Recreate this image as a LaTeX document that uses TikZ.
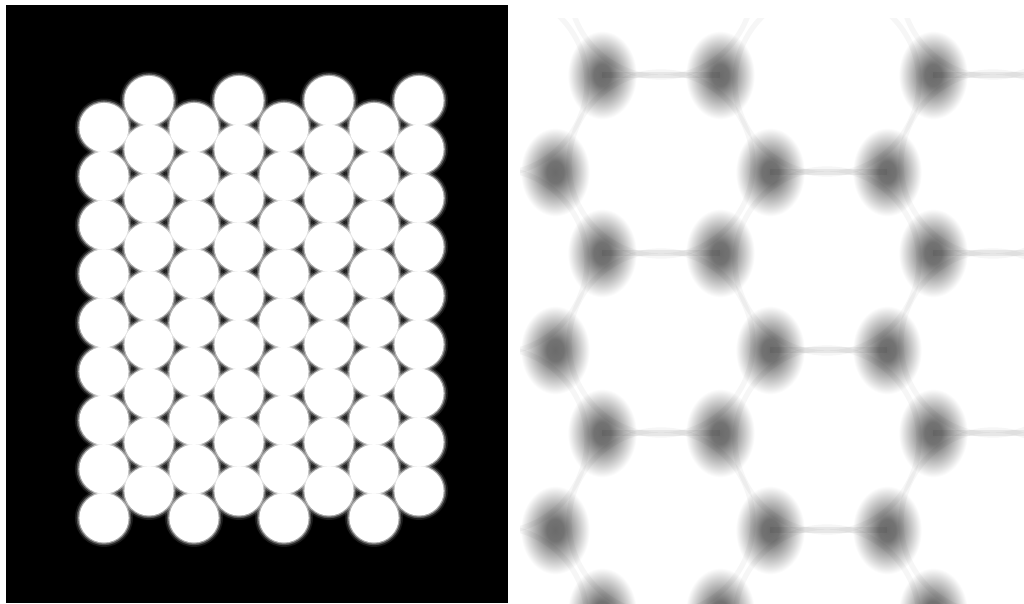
\documentclass[tikz,border=0pt]{standalone}
\pgfdeclareradialshading{blob}{\pgfpoint{0bp}{0bp}}{color(0bp)=(black!58); color(6bp)=(black!55); color(24bp)=(white); color(50bp)=(white)}
\tikzset{
  halo/.style={fill=white, opacity=#1},
  streak/.style={draw=black, opacity=0.06, line width=5},
  rim/.style={draw=black, opacity=0.035, line width=4}
}
\begin{document}
\begin{tikzpicture}[x=0.75pt,y=-0.75pt]
\useasboundingbox (0,0) rectangle (1024,603);
\fill[white] (0,0) rectangle (1024,603);
% left panel
\fill[black] (6,5) rectangle (508,603);
\begin{scope}
\clip (6,5) rectangle (508,603);
\foreach \i in {0,...,7}{
  \pgfmathsetmacro\cx{104+45*\i}
  \pgfmathsetmacro\cy{mod(\i,2)==0 ? 127.5 : 100.5}
  \foreach \k in {0,...,8}{
    \pgfmathsetmacro\yy{\cy+48.8*\k}
    \fill[halo=0.1] (\cx,\yy) circle (29);
    \fill[halo=0.25] (\cx,\yy) circle (27.3);
    \fill[halo=0.5] (\cx,\yy) circle (25.8);
    \fill[white] (\cx,\yy) circle (24.6);
  }
}
\end{scope}
% right panel
\begin{scope}
\clip (520,18) rectangle (1024,603);
\foreach \y in {75,253,433,612}{
  \foreach \x in {602,720,933}{
    \shade[shading=blob] (\x,\y) ellipse [x radius=36, y radius=46];
  }
}
\foreach \y in {172,350,530}{
  \foreach \x in {555,770,887}{
    \shade[shading=blob] (\x,\y) ellipse [x radius=36, y radius=46];
  }
}
\foreach \x/\y in {661/-15,661/164,661/343,661/522,993/-15,993/164,993/343,993/522,827/82,827/261,827/440,827/619,495/82,495/261,495/440,495/619}{
  \draw[rim] (\x,\y) circle (92);
}
\foreach \a/\b/\y in {602/720/75,602/720/253,602/720/433,933/1024/75,933/1024/253,933/1024/433,770/887/172,770/887/350,770/887/530}{
  \draw[streak] (\a,\y) -- (\b,\y);
}
\end{scope}
\end{tikzpicture}
\end{document}
